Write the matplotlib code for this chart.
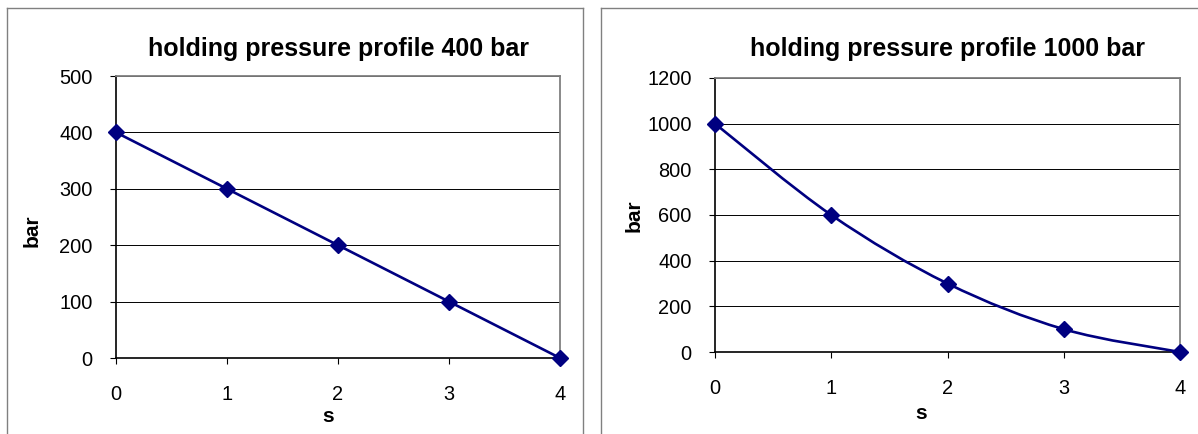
import matplotlib.pyplot as plt
import numpy as np
from matplotlib.path import Path
from matplotlib.patches import PathPatch
from matplotlib.lines import Line2D

plt.rcParams['font.family'] = ['Liberation Sans', 'DejaVu Sans']

# Holding pressure profiles
time_s = [0, 1, 2, 3, 4]
pressure_400 = [400, 300, 200, 100, 0]
pressure_1000 = [1000, 600, 300, 100, 0]

titles = ['holding pressure profile 400 bar', 'holding pressure profile 1000 bar']
y_ticks_400 = [0, 100, 200, 300, 400, 500]
y_ticks_1000 = [0, 200, 400, 600, 800, 1000, 1200]

navy = '#000080'


def smooth_path(xs, ys):
    # cubic Bezier segments through the points (Catmull-Rom style smoothing)
    p = np.column_stack([xs, ys]).astype(float)
    ext = np.vstack([p[0], p, p[-1]])
    verts = [p[0]]
    codes = [Path.MOVETO]
    for i in range(len(p) - 1):
        a, b, c, d = ext[i], ext[i + 1], ext[i + 2], ext[i + 3]
        verts += [b + (c - a) / 6, c - (d - b) / 6, c]
        codes += [Path.CURVE4] * 3
    return Path(verts, codes)


def style_axes(ax, yticks):
    ax.set_xlim(0, 4)
    ax.set_ylim(yticks[0], yticks[-1])
    ax.set_xticks(time_s)
    ax.set_yticks(yticks)
    ax.grid(axis='y', color='black', linewidth=0.7)
    ax.set_axisbelow(True)
    for side in ['top', 'right']:
        ax.spines[side].set_color('#808080')
        ax.spines[side].set_linewidth(1.3)
    for side in ['left', 'bottom']:
        ax.spines[side].set_color('black')
        ax.spines[side].set_linewidth(1.2)
    ax.tick_params(axis='both', direction='out', length=4.3, width=0.8,
                   labelsize=14.4)
    ax.tick_params(axis='y', pad=12.5)
    ax.tick_params(axis='x', pad=15)


fig = plt.figure(figsize=(11.98, 4.34), dpi=100)

ax1 = fig.add_axes([116 / 1198, 1 - 358 / 434, 444 / 1198, 282 / 434])
ax2 = fig.add_axes([715 / 1198, 1 - 352 / 434, 465 / 1198, 274 / 434])

# left: straight line profile
style_axes(ax1, y_ticks_400)
ax1.plot(time_s, pressure_400, color=navy, linewidth=1.9, marker='D',
         markersize=8, clip_on=False, zorder=5)

# right: smoothed line profile
style_axes(ax2, y_ticks_1000)
ax2.add_patch(PathPatch(smooth_path(time_s, pressure_1000), facecolor='none',
                        edgecolor=navy, linewidth=1.9, zorder=4, clip_on=False))
ax2.plot(time_s, pressure_1000, linestyle='none', color=navy, marker='D',
         markersize=8, clip_on=False, zorder=5)

label_pos = [((0.477, -0.209), (-0.189, 0.45)),
             ((0.443, -0.223), (-0.174, 0.496))]
title_y = [1.071, 1.080]
for ax, title, (xpos, ypos), ty in zip([ax1, ax2], titles, label_pos, title_y):
    ax.text(0.5, ty, title, transform=ax.transAxes,
            ha='center', va='baseline', fontsize=18, fontweight='bold')
    ax.set_xlabel('s', fontsize=15, fontweight='bold')
    ax.set_ylabel('bar', fontsize=15, fontweight='bold')
    ax.xaxis.set_label_coords(*xpos)
    ax.yaxis.set_label_coords(*ypos)
    ax.xaxis.label.set_verticalalignment('center')
    ax.yaxis.label.set_verticalalignment('center')

# chart frames
frame = dict(color='#808080', linewidth=1.0, transform=fig.transFigure)
W, H = 1198, 434
for xs, ys in [([7, 7], [434, 8]), ([7, 583], [8, 8]), ([583, 583], [8, 434]),
               ([601, 601], [434, 8]), ([601, 1198], [8, 8])]:
    fig.add_artist(Line2D([x / W for x in xs], [1 - y / H for y in ys], **frame))

fig.savefig('out.png', dpi=100)
